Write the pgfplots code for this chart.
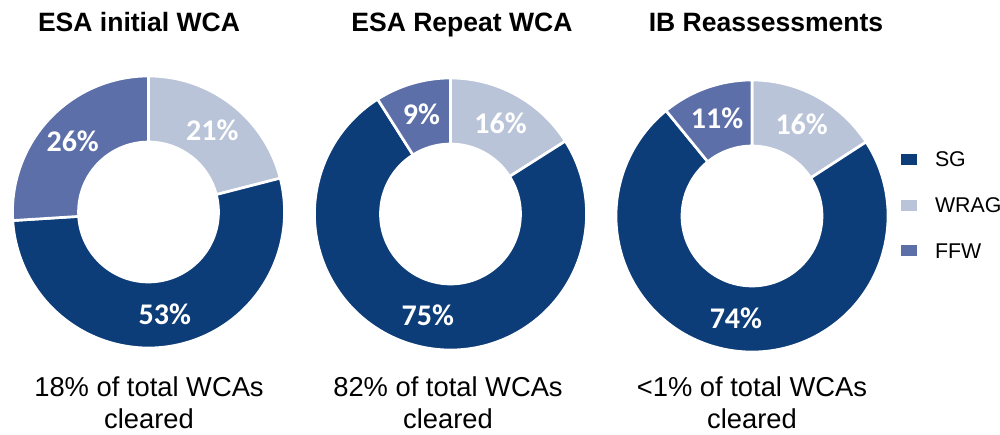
\documentclass[border=0pt]{standalone}
\usepackage{fontspec}
\setmainfont{Liberation Sans}
\newfontfamily\labfont{Carlito}
\usepackage{pgfplots}
\usepackage{pgfplotstable}
\pgfplotsset{compat=1.18}

\definecolor{colSG}{RGB}{12,61,120}
\definecolor{colWRAG}{RGB}{186,196,217}
\definecolor{colFFW}{RGB}{92,111,168}

\tikzset{
  lab/.style={text=white, font=\labfont\bfseries\fontsize{22.5pt}{26pt}\selectfont, inner sep=0pt},
  seg/.style={fill=#1, draw=white, line width=2pt, line join=miter},
  ttl/.style={anchor=base, font=\bfseries\fontsize{19.9pt}{24pt}\selectfont, inner sep=0pt},
  btm/.style={anchor=base, font=\fontsize{20.5pt}{24pt}\selectfont, inner sep=0pt},
}

\pgfplotstableread{
cat value
WRAG 21
SG 53
FFW 26
}\tabA
\pgfplotstableread{
cat value
WRAG 16
SG 75
FFW 9
}\tabB
\pgfplotstableread{
cat value
WRAG 16
SG 74
FFW 11
}\tabC

% radii in axis units (1 unit = 0.75pt)
\def\Ro{136}
\def\Ri{70}
\def\Rl{104}
\def\unitpt{0.75}
\gdef\alldonuts{}

\newcommand\drawdonut[3]{%
  \def\tot{0}%
  \pgfplotsforeachungrouped \i in {0,1,2}{%
    \pgfplotstablegetelem{\i}{value}\of#1%
    \pgfmathsetmacro\tot{\tot+\pgfplotsretval}}%
  \def\cum{0}%
  \pgfmathsetmacro\RoPt{\Ro*\unitpt}%
  \pgfmathsetmacro\RiPt{\Ri*\unitpt}%
  \pgfplotsforeachungrouped \i in {0,1,2}{%
    \pgfplotstablegetelem{\i}{value}\of#1\let\val\pgfplotsretval
    \pgfplotstablegetelem{\i}{cat}\of#1\let\cat\pgfplotsretval
    \pgfmathsetmacro\aA{90-360*(\cum/\tot)}%
    \pgfmathsetmacro\cum{\cum+\val}%
    \pgfmathsetmacro\aB{90-360*(\cum/\tot)}%
    \pgfmathsetmacro\aM{(\aA+\aB)/2}%
    \pgfmathsetmacro\xA{#2+\Ro*cos(\aA)}%
    \pgfmathsetmacro\yA{#3+\Ro*sin(\aA)}%
    \pgfmathsetmacro\xB{#2+\Ri*cos(\aB)}%
    \pgfmathsetmacro\yB{#3+\Ri*sin(\aB)}%
    \pgfmathsetmacro\xM{#2+\Rl*cos(\aM)}%
    \pgfmathsetmacro\yM{#3+\Rl*sin(\aM)}%
    \xdef\alldonuts{\unexpanded\expandafter{\alldonuts}%
      \noexpand\path[seg=col\cat]
      (axis cs:\xA,\yA) arc[start angle=\aA, end angle=\aB, radius=\RoPt pt]
      -- (axis cs:\xB,\yB) arc[start angle=\aB, end angle=\aA, radius=\RiPt pt] -- cycle;
      \noexpand\node[lab] at (axis cs:\xM,\yM) {\val\noexpand\%};}%
  }%
}
\drawdonut{\tabA}{148.5}{223}
\drawdonut{\tabB}{450.5}{221}
\drawdonut{\tabC}{752}{219}

\begin{document}
\begin{tikzpicture}
\begin{axis}[
  scale only axis, width=750pt, height=326.25pt,
  xmin=0, xmax=1000, ymin=0, ymax=435,
  axis lines=none, clip=false,
  legend style={draw=none, fill=none, inner sep=0pt, outer sep=0pt,
    at={(axis cs:901,283.5)}, anchor=north west, row sep=22.8pt,
    nodes={inner sep=0pt, text height=11.5pt, text depth=0pt, anchor=base west},
    font=\fontsize{16pt}{19pt}\selectfont},
  legend cell align=left,
  legend image code/.code={\fill[#1, draw=none] (0pt,1.4pt) rectangle (12pt,9.6pt); \path[draw=none, fill=none] (0pt,0pt) rectangle (25.5pt,0.1pt);},
]
\addlegendimage{colSG}\addlegendentry{SG}
\addlegendimage{colWRAG}\addlegendentry{WRAG}
\addlegendimage{colFFW}\addlegendentry{FFW}

\pgfplotsextra{\alldonuts}

\node[ttl] at (axis cs:139,403) {ESA initial WCA};
\node[ttl] at (axis cs:462,403) {ESA Repeat WCA};
\node[ttl] at (axis cs:766,403) {IB Reassessments};

\node[btm] at (axis cs:149,38) {18\% of total WCAs};
\node[btm] at (axis cs:149,6) {cleared};
\node[btm] at (axis cs:448,38) {82\% of total WCAs};
\node[btm] at (axis cs:448,6) {cleared};
\node[btm] at (axis cs:752,38) {<1\% of total WCAs};
\node[btm] at (axis cs:752,6) {cleared};
\end{axis}
\pgfresetboundingbox
\path (current axis.south west) rectangle (current axis.north east);
\end{tikzpicture}
\end{document}
